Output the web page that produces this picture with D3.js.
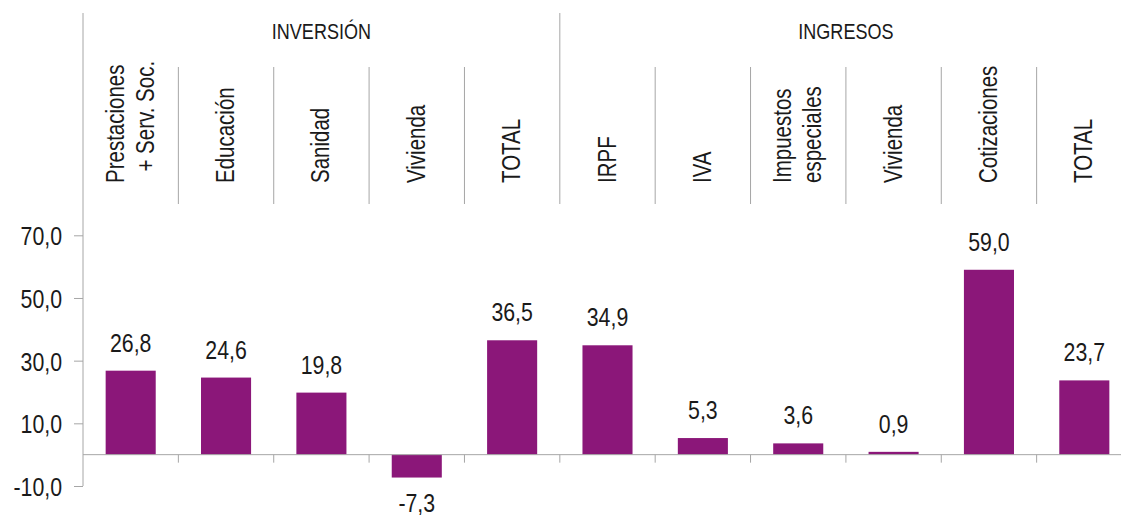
<!DOCTYPE html>
<html>
<head>
<meta charset="utf-8">
<script src="https://cdn.jsdelivr.net/npm/d3@7"></script>
<style>
  body { margin: 0; background: #fff; }
  svg { display: block; font-family: "Liberation Sans", Arial, sans-serif; }
</style>
</head>
<body>
<div id="chart"></div>
<script>
// Data
const categories = [
    ['Prestaciones', '\u00a0\u00a0+ Serv. Soc.'],
    ['Educación'],
    ['Sanidad'],
    ['Vivienda'],
    ['TOTAL'],
    ['IRPF'],
    ['IVA'],
    ['Impuestos', 'especiales'],
    ['Vivienda'],
    ['Cotizaciones'],
    ['TOTAL']
];
const values = [26.8, 24.6, 19.8, -7.3, 36.5, 34.9, 5.3, 3.6, 0.9, 59.0, 23.7];
const groups = [
    { name: 'INVERSIÓN', first: 0, last: 4 },
    { name: 'INGRESOS', first: 5, last: 10 }
];
const yTicks = [-10, 10, 30, 50, 70];

// Layout
const width = 1121, height = 515;
const left = 83, right = 1132;
const headerTop = 13, sepTop = 67, headerBottom = 204, labelBase = 183;
const barColor = '#8b1779', lineColor = '#a6a6a6', textColor = '#1a1a1a';
const narrow = 0.82; // condensed look from a regular face

const svg = d3.select('#chart').append('svg')
    .attr('width', width)
    .attr('height', height);

const idx = d3.range(categories.length);
const x = d3.scaleBand()
    .domain(idx)
    .range([left, right])
    .paddingInner(0.475)
    .paddingOuter(0.2375);
const step = x.step();
const edge = i => left + i * step;

const y = d3.scaleLinear()
    .domain([-10, 70])
    .range([486, 235.3]);

const fmt = v => d3.format('.1f')(v).replace('.', ',').replace('\u2212', '-');

// Header: group titles and separators
svg.selectAll('.group')
    .data(groups)
    .enter()
    .append('text')
    .attr('transform', d => `translate(${(edge(d.first) + edge(d.last + 1)) / 2},39) scale(${narrow},1)`)
    .attr('text-anchor', 'middle')
    .attr('font-size', 22)
    .attr('fill', textColor)
    .text(d => d.name);

svg.selectAll('.sep')
    .data(d3.range(1, categories.length))
    .enter()
    .append('line')
    .attr('x1', d => edge(d)).attr('x2', d => edge(d))
    .attr('y1', d => groups.some(g => g.first === d) ? headerTop : sepTop)
    .attr('y2', headerBottom)
    .attr('stroke', lineColor)
    .attr('stroke-width', 1);

// Rotated category labels
const lineGap = 30;
const labels = svg.selectAll('.cat')
    .data(categories)
    .enter()
    .append('text')
    .attr('font-size', 25)
    .attr('fill', textColor)
    .attr('transform', (d, i) => `translate(${x(i) + x.bandwidth() / 2},${labelBase}) rotate(-90) scale(${narrow},1)`);

labels.selectAll('tspan')
    .data(d => d.map((t, k) => ({ t, k, n: d.length })))
    .enter()
    .append('tspan')
    .attr('x', 0)
    .attr('y', d => (d.k - (d.n - 1) / 2) * lineGap + 8)
    .text(d => d.t);

// Y axis
svg.append('line')
    .attr('x1', left).attr('x2', left)
    .attr('y1', headerTop).attr('y2', y(-10))
    .attr('stroke', lineColor);

const yAxis = svg.append('g')
    .attr('transform', `translate(${left},0)`)
    .call(d3.axisLeft(y).tickValues(yTicks).tickFormat(fmt).tickSize(9).tickPadding(12));
yAxis.select('.domain').remove();
yAxis.selectAll('line').attr('stroke', lineColor);
yAxis.selectAll('text')
    .attr('font-size', 26)
    .attr('font-family', null)
    .attr('fill', textColor)
    .attr('x', -21 / narrow)
    .attr('dy', '0.36em')
    .attr('transform', `scale(${narrow},1)`);

// Bars
svg.selectAll('.bar')
    .data(values)
    .enter()
    .append('rect')
    .attr('x', (d, i) => x(i))
    .attr('width', x.bandwidth())
    .attr('y', d => y(Math.max(0, d)))
    .attr('height', d => Math.abs(y(d) - y(0)))
    .attr('fill', barColor);

// Zero line and category ticks
svg.append('line')
    .attr('x1', left).attr('x2', right)
    .attr('y1', y(0)).attr('y2', y(0))
    .attr('stroke', lineColor);

svg.selectAll('.ctick')
    .data(d3.range(1, categories.length))
    .enter()
    .append('line')
    .attr('x1', d => edge(d)).attr('x2', d => edge(d))
    .attr('y1', y(0)).attr('y2', y(0) + 8)
    .attr('stroke', lineColor);

// Value labels
svg.selectAll('.val')
    .data(values)
    .enter()
    .append('text')
    .attr('transform', (d, i) => `translate(${x(i) + x.bandwidth() / 2},${d >= 0 ? y(d) - 19 : y(d) + 34}) scale(${narrow},1)`)
    .attr('text-anchor', 'middle')
    .attr('font-size', 26)
    .attr('fill', textColor)
    .text(fmt);
</script>
</body>
</html>
